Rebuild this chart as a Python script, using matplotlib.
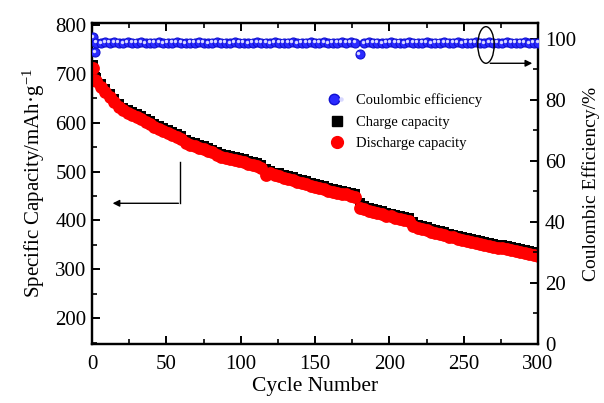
import matplotlib
matplotlib.use("Agg")
import matplotlib.pyplot as plt
from matplotlib.lines import Line2D
from matplotlib.patches import Ellipse
from matplotlib.legend_handler import HandlerTuple
import matplotlib.transforms as mtransforms
from matplotlib.ticker import MultipleLocator

plt.rcParams['font.family'] = ['Liberation Serif', 'DejaVu Serif']
plt.rcParams['mathtext.fontset'] = 'stix'

# ---------------- data ----------------
cycles = [1, 2] + list(range(3, 301, 3))
discharge = [712, 688,
             685, 673, 663, 652, 642, 633, 625, 620, 616, 612,
             607, 602, 597, 592, 587, 583, 578, 574, 570, 566,
             558, 555, 552, 549, 546, 543, 539, 533, 530, 528,
             526, 523, 521, 519, 516, 513, 511, 508, 493, 496,
             492, 490, 487, 485, 482, 479, 476, 474, 471, 468,
             466, 464, 461, 459, 457, 455, 453, 450, 447, 425,
             423, 420, 418, 416, 413, 410, 408, 405, 403, 400,
             398, 389, 384, 382, 380, 377, 374, 372, 370, 367,
             365, 362, 360, 358, 356, 354, 352, 350, 348, 346,
             344, 343, 341, 339, 337, 335, 333, 331, 329, 327]
charge = [718, 694,
          691, 679, 669, 658, 648, 639, 631, 626, 622, 618,
          613, 608, 603, 598, 593, 589, 584, 580, 576, 572,
          564, 561, 558, 555, 552, 549, 545, 539, 536, 534,
          532, 529, 527, 525, 522, 519, 517, 514, 506, 502,
          498, 496, 493, 491, 488, 485, 482, 480, 477, 474,
          472, 470, 467, 465, 463, 461, 459, 456, 453, 436,
          430, 426, 424, 422, 419, 416, 414, 411, 409, 406,
          404, 397, 391, 388, 386, 383, 380, 378, 376, 373,
          371, 368, 366, 364, 362, 360, 358, 356, 354, 352,
          350, 349, 347, 345, 343, 341, 339, 337, 335, 333]
ce = [100.6, 95.6,
      98.8, 98.6, 98.9, 98.7, 99.0, 98.8, 98.6, 98.9, 98.7, 98.8,
      98.9, 98.6, 98.8, 98.7, 98.9, 98.6, 98.8, 98.7, 99.0, 98.8,
      98.6, 98.8, 98.7, 98.9, 98.7, 98.6, 98.8, 98.9, 98.7, 98.8,
      98.6, 98.9, 98.7, 98.8, 98.6, 98.8, 98.9, 98.7, 98.8, 98.6,
      98.9, 98.7, 98.8, 98.7, 98.9, 98.6, 98.8, 98.7, 98.9, 98.8,
      98.7, 98.9, 98.6, 98.8, 98.7, 98.9, 98.8, 98.9, 98.7, 95.0,
      98.6, 98.9, 98.7, 98.8, 98.6, 98.8, 98.9, 98.7, 98.8, 98.6,
      98.9, 98.7, 98.8, 98.7, 98.9, 98.6, 98.8, 98.7, 98.9, 98.8,
      98.7, 98.9, 98.6, 98.8, 98.7, 98.9, 98.8, 98.6, 98.9, 98.7,
      98.8, 98.6, 98.9, 98.7, 98.8, 98.7, 98.9, 98.6, 98.8, 98.7]

# ---------------- figure ----------------
fig = plt.figure(figsize=(6.04, 4.03), dpi=100)
ax = fig.add_axes([92/604, 1-344/403, 446/604, 321/403])
ax2 = ax.twinx()

ax.scatter(cycles, charge, marker='s', s=48, color='black', zorder=2, linewidths=0)
ax.scatter(cycles, discharge, marker='o', s=85, color='#ff0000', zorder=3, linewidths=0)

ax2.scatter(cycles, ce, marker='o', s=42, facecolor='#2a2aff', edgecolor='#1010d0',
            linewidths=0.8, zorder=3)
hl = mtransforms.offset_copy(ax2.transData, fig=fig, x=-1.0, y=1.0, units='points')
ax2.scatter(cycles, ce, marker='o', s=6, color='#d8d8ff', linewidths=0,
            transform=hl, zorder=4)

ax.set_xlim(0, 300)
ax.set_ylim(147, 804)
ax2.set_ylim(0, 105.2)

ax.xaxis.set_major_locator(MultipleLocator(50))
ax.xaxis.set_minor_locator(MultipleLocator(25))
ax.yaxis.set_major_locator(MultipleLocator(100))
ax.yaxis.set_minor_locator(MultipleLocator(50))
ax2.yaxis.set_major_locator(MultipleLocator(20))
ax2.yaxis.set_minor_locator(MultipleLocator(10))

for a in (ax, ax2):
    for sp in a.spines.values():
        sp.set_linewidth(1.6)
    a.tick_params(which='major', direction='in', length=6, width=1.4, labelsize=15, pad=4)
    a.tick_params(which='minor', direction='in', length=3.5, width=1.2)
ax.tick_params(which='both', top=True)
ax.tick_params(axis='x', pad=8)
ax2.tick_params(axis='y', pad=5)
ax.set_yticks([200, 300, 400, 500, 600, 700, 800])

ax.set_xlabel('Cycle Number', fontsize=15.5, labelpad=2)
ax.set_ylabel('Specific Capacity/mAh·g$^{\\mathregular{-1}}$', fontsize=15, labelpad=6)
ax2.set_ylabel('Coulombic Efficiency/%', fontsize=14, labelpad=4)

# annotations
ax.plot([59.5, 59.5], [520, 435], color='black', lw=1.0)
ax.annotate('', xy=(12, 435), xytext=(60, 435),
            arrowprops=dict(arrowstyle='-|>', color='black', lw=1.0, mutation_scale=10))
ax2.add_patch(Ellipse((265, 98), 11, 12, fill=False, edgecolor='black', lw=1.0, zorder=5))
ax2.annotate('', xy=(298, 92), xytext=(266, 92),
             arrowprops=dict(arrowstyle='-|>', color='black', lw=1.0, mutation_scale=10))

# legend
h_ce = (Line2D([], [], marker='o', ls='', markersize=7.5, markerfacecolor='#2a2aff',
               markeredgecolor='#1010d0'),
        Line2D([], [], marker='o', ls='', markersize=2.2, color='#d8d8ff'))
h_ch = Line2D([], [], marker='s', ls='', markersize=7, color='black')
h_dc = Line2D([], [], marker='o', ls='', markersize=8.5, color='#ff0000')
ax2.legend([h_ce, h_ch, h_dc], ['Coulombic efficiency', 'Charge capacity', 'Discharge capacity'],
           handler_map={tuple: HandlerTuple(ndivide=None)},
           loc='upper left', bbox_to_anchor=(0.534, 0.78), frameon=False,
           fontsize=10.5, handlelength=1.0, handletextpad=0.8, labelspacing=0.55,
           borderpad=0, borderaxespad=0)

fig.savefig('out.png', dpi=100)
